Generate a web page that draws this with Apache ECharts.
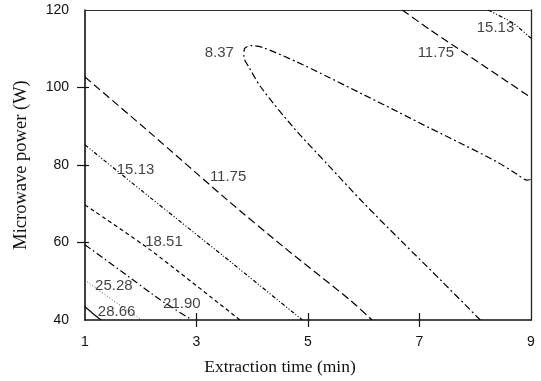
<!DOCTYPE html>
<html>
<head>
<meta charset="utf-8">
<script src="https://cdn.jsdelivr.net/npm/echarts@6/dist/echarts.min.js"></script>
<style>
  html, body { margin: 0; padding: 0; background: #fff; }
  #chart { width: 541px; height: 381px; }
</style>
</head>
<body>
<div id="chart"></div>
<script>
// Response-surface contours: extraction yield vs. time and microwave power.
// Each path is a list of [time (min), power (W)] points along one iso-line.
const xTicks = [1, 3, 5, 7, 9];
const yTicks = [40, 60, 80, 100, 120];

const levels = [28.66, 25.28, 21.90, 18.51, 15.13, 11.75, 8.37];

const path2866 = [[1, 43.4], [1.14, 41.7], [1.29, 40]];
const path2528 = [[1, 50.3], [1.5, 45.1], [2.02, 40]];
const path2190 = [[1, 59.4], [1.67, 52.4], [2.35, 45.2], [2.92, 40]];
const path1851 = [[1, 69.7], [2.17, 58.1], [3.78, 40]];
const path1513Low = [[1, 85.2], [2.17, 71.6], [3.5, 56.3], [4.9, 40]];
const path1175Low = [[1, 102.7], [2.17, 88.3], [3.55, 71.0], [4.55, 59.0], [5.75, 45.2], [6.15, 40]];
const path837 = [
  [8.09, 40], [7.40, 50], [6.70, 60], [6.01, 70], [5.36, 80],
  [4.72, 90], [4.16, 100], [3.95, 105], [3.85, 108], [3.86, 110.0],
  [3.98, 110.8], [4.19, 110.3], [4.80, 106.6], [5.39, 102.5], [5.99, 98.2],
  [6.60, 93.8], [7.19, 89.5], [7.78, 85.3], [8.39, 80.8], [8.75, 77.6],
  [8.93, 76.1], [9, 76.3]
];
const path1175High = [[6.69, 120], [7.19, 114.9], [9, 97.4]];
const path1513High = [[8.23, 120], [8.68, 116.6], [9, 112.7]];

// Where each level value is written on its line
const labelLevels = [28.66, 25.28, 21.90, 18.51, 15.13, 11.75, 8.37, 11.75, 15.13];
const labelAnchors = [
  [1.23, 42.1], [1.18, 48.7], [2.40, 44.1], [2.08, 60.1], [1.57, 78.8],
  [3.24, 77.0], [3.67, 108.9], [7.62, 108.9], [8.70, 115.4]
];

// Dash pattern for each level
const dashByLevel = {
  '28.66': 'solid',
  '25.28': [1, 2],
  '21.90': [7, 3, 1.5, 3],
  '18.51': [4, 3],
  '15.13': [4, 2, 1, 2, 1, 2],
  '11.75': [8, 4],
  '8.37': [7, 3, 2, 3]
};

const contourSets = [
  [28.66, path2866], [25.28, path2528], [21.90, path2190], [18.51, path1851],
  [15.13, path1513Low], [11.75, path1175Low], [8.37, path837],
  [11.75, path1175High], [15.13, path1513High]
];

const lineSeries = contourSets.map(([lvl, pts]) => {
  const key = lvl.toFixed(2);
  const faint = key === '25.28';
  return {
    type: 'line',
    name: key,
    data: pts,
    smooth: key === '8.37' ? 0.3 : 0.2,
    showSymbol: false,
    symbol: 'none',
    silent: true,
    z: 3,
    lineStyle: {
      color: faint ? '#444' : '#000',
      width: faint ? 0.9 : 1.2,
      type: dashByLevel[key]
    }
  };
});

// The first six labels sit to the right of their anchor, the last three to the left
const labelData = labelAnchors.map((p, i) => ({
  value: p,
  label: { position: i >= 6 ? 'left' : 'right' },
  txt: labelLevels[i].toFixed(2)
}));

const labelSeries = {
  type: 'scatter',
  data: labelData,
  symbolSize: 0,
  silent: true,
  z: 5,
  label: {
    show: true,
    distance: 0,
    color: '#111',
    fontFamily: 'Liberation Sans, Arial, sans-serif',
    fontSize: 15,
    formatter: (p) => p.data.txt
  }
};

const tickFont = { fontFamily: 'Liberation Sans, Arial, sans-serif', fontSize: 14, color: '#111' };
const xNameFont = { fontFamily: 'Liberation Serif, Times New Roman, serif', fontSize: 17.5, color: '#111', padding: [0, 56, 0, 0] };
const yNameFont = { fontFamily: 'Liberation Serif, Times New Roman, serif', fontSize: 18.5, color: '#111' };

const baseX = { type: 'value', min: 1, max: 9, interval: 2, splitLine: { show: false } };
const baseY = { type: 'value', min: 40, max: 120, interval: 20, splitLine: { show: false } };

const option = {
  animation: false,
  backgroundColor: '#fff',
  grid: { left: 85, right: 10, top: 10, bottom: 60, containLabel: false },
  xAxis: [
    Object.assign({}, baseX, {
      position: 'bottom',
      name: 'Extraction time (min)',
      nameLocation: 'middle',
      nameGap: 38,
      nameTextStyle: xNameFont,
      axisLine: { show: true, lineStyle: { color: '#111', width: 1.6 } },
      axisTick: { show: true, inside: false, length: 7, customValues: [3, 5, 7], lineStyle: { color: '#111', width: 1.2 } },
      axisLabel: Object.assign({ margin: 15, customValues: xTicks }, tickFont)
    }),
    Object.assign({}, baseX, {
      position: 'bottom',
      axisLine: { show: false },
      axisTick: { show: true, inside: true, length: 7, customValues: [3, 5, 7], lineStyle: { color: '#111', width: 1.2 } },
      axisLabel: { show: false }
    }),
    Object.assign({}, baseX, {
      position: 'top',
      axisLine: { show: true, lineStyle: { color: '#333', width: 1 } },
      axisTick: { show: false },
      axisLabel: { show: false }
    })
  ],
  yAxis: [
    Object.assign({}, baseY, {
      position: 'left',
      name: 'Microwave power (W)',
      nameLocation: 'middle',
      nameGap: 54,
      nameTextStyle: yNameFont,
      axisLine: { show: true, lineStyle: { color: '#111', width: 1.6 } },
      axisTick: { show: true, inside: false, length: 8, customValues: [60, 80, 100], lineStyle: { color: '#111', width: 1.2 } },
      axisLabel: Object.assign({ margin: 16, customValues: yTicks }, tickFont)
    }),
    Object.assign({}, baseY, {
      position: 'left',
      axisLine: { show: false },
      axisTick: { show: true, inside: true, length: 4, customValues: [60, 80, 100], lineStyle: { color: '#111', width: 1.2 } },
      axisLabel: { show: false }
    }),
    Object.assign({}, baseY, {
      position: 'right',
      axisLine: { show: true, lineStyle: { color: '#222', width: 1.3 } },
      axisTick: { show: false },
      axisLabel: { show: false }
    })
  ],
  series: lineSeries.concat([labelSeries])
};

const chart = echarts.init(document.getElementById('chart'), null, { renderer: 'canvas' });
chart.setOption(option);
</script>
</body>
</html>
